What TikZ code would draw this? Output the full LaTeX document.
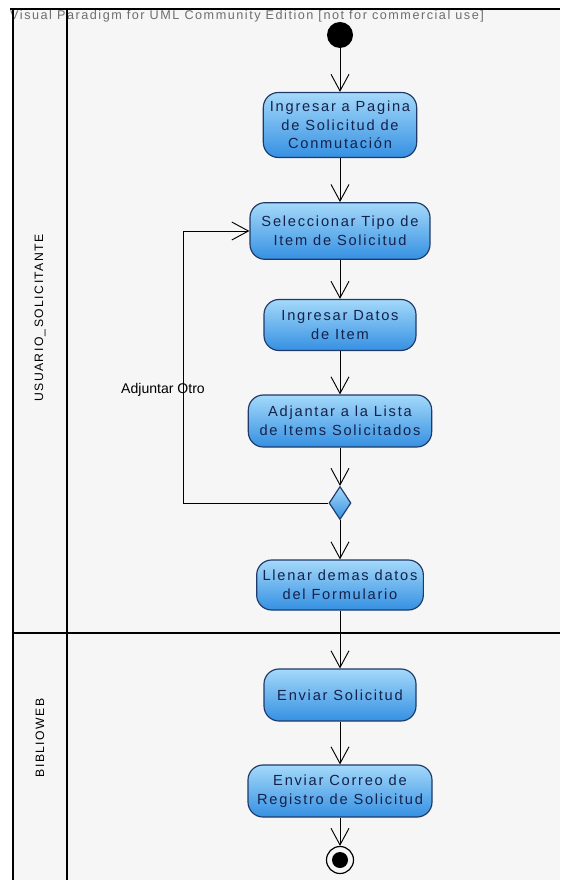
\documentclass[tikz,border=0pt]{standalone}
\usepackage{fontspec}
\newfontfamily\vpfont[LetterSpace=12]{Liberation Sans}
\newfontfamily\vplabel{Liberation Sans}
\usetikzlibrary{arrows.meta,shapes.geometric}

\definecolor{lanebg}{HTML}{F6F6F6}
\definecolor{actborder}{HTML}{1F3A68}
\definecolor{acttop}{HTML}{A4D9FA}
\definecolor{actbottom}{HTML}{3590E2}
\definecolor{acttext}{HTML}{16224A}
\definecolor{marktext}{HTML}{6E6E6E}

\begin{document}
\begin{tikzpicture}[x=0.03cm, y=-0.03cm,
  act/.style={draw=actborder, line width=1pt, rounded corners=4.5mm,
    top color=acttop, bottom color=actbottom, text=acttext, align=center,
    inner sep=0pt, font=\vpfont\fontsize{12.5}{16}\selectfont},
  flow/.style={line width=0.8pt, -{Straight Barb[length=5mm,width=5.4mm,line width=0.8pt]}},
  lanetext/.style={rotate=90, inner sep=0pt, font=\vpfont\fontsize{10.4}{13}\selectfont}]

\useasboundingbox (0,0) rectangle (560,880);

% スイムレーンの背景
\fill[lanebg] (12,9) rectangle (560,880);
\node[anchor=west, inner sep=0pt, text=marktext, font=\vpfont\fontsize{10.8}{13}\selectfont]
  (mark) at (10,16) {Visual Paradigm for UML Community Edition [not for commercial use]};

% 枠線
\draw[line width=1.4pt] (10,9) -- (560,9);
\draw[line width=1.3pt] (13,9) -- (13,880);
\draw[line width=2.2pt] (67,9) -- (67,880);
\draw[line width=2pt] (13,633) -- (560,633);

\node[lanetext] (usuario) at (40,318) {USUARIO\_SOLICITANTE};
\node[lanetext] (biblio) at (40,738) {BIBLIOWEB};

% 開始・終了
\node[circle, fill=black, minimum size=7.8mm, inner sep=0pt] (ini) at (340,35) {};
\node[circle, draw, line width=1pt, fill=lanebg, minimum size=8.1mm, inner sep=0pt] (fin) at (340,860) {};
\fill (fin.center) circle (2.4mm);

% アクション(名前/y/幅/高さ/テキスト)
\foreach \name/\y/\w/\h/\txt in {
    pag/125/46/19.5/{Ingresar a Pagina\\de Solicitud de\\Conmutación},
    sel/231/54/17/{Seleccionar Tipo de\\Item de Solicitud},
    dat/325/45.6/15.3/{Ingresar Datos\\de Item},
    lis/421/55/15.6/{Adjantar a la Lista\\de Items Solicitados},
    lle/585/50/15/{Llenar demas datos\\del Formulario},
    env/695/45.6/15.6/{Enviar Solicitud},
    cor/791/55.2/15.6/{Enviar Correo de\\Registro de Solicitud}} {
    \node[act, minimum width=\w mm, minimum height=\h mm] (\name) at (340,\y) {\txt};
}

% 分岐
\node[diamond, draw=actborder, line width=1pt, top color=acttop, bottom color=actbottom,
  minimum width=6.6mm, minimum height=9.9mm, inner sep=0pt] (dec) at (340,503) {};

% 遷移
\foreach \a/\b in {ini/pag, pag/sel, sel/dat, dat/lis, lis/dec, dec/lle, lle/env, env/cor, cor/fin} {
    \draw[flow] (\a) -- (\b);
}

% ループ(Adjuntar Otro)
\coordinate (loop) at (183,503);
\draw[flow] (dec.west) -- (loop) |- (sel.west);
\node[inner sep=0pt, font=\vplabel\fontsize{12}{14}\selectfont] (otro) at (163,390) {Adjuntar Otro};
\end{tikzpicture}
\end{document}
